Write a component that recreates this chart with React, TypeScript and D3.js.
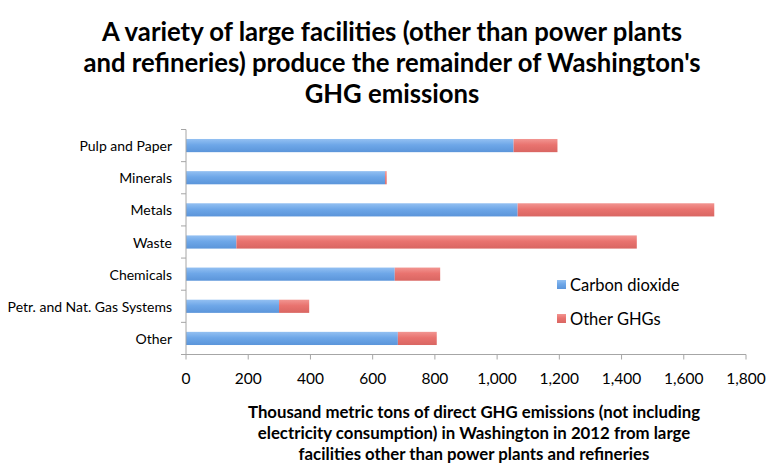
import * as d3 from "d3"

const categories = ["Pulp and Paper", "Minerals", "Metals", "Waste", "Chemicals", "Petr. and Nat. Gas Systems", "Other"]
const carbonDioxide = [1053, 640, 1066, 162, 671, 299, 681]
const otherGhgs = [141, 5, 632, 1287, 146, 97, 125]
const xTicks = [0, 200, 400, 600, 800, 1000, 1200, 1400, 1600, 1800]
const seriesNames = ["Carbon dioxide", "Other GHGs"]

const titleLines = [
  "A variety of large facilities (other than power plants",
  "and refineries) produce the remainder of Washington's",
  "GHG emissions",
]
const axisTitleLines = [
  "Thousand metric tons of direct GHG emissions (not including",
  "electricity consumption) in Washington in 2012 from large",
  "facilities other than power plants and refineries",
]

const WIDTH = 782
const HEIGHT = 476
const FONT = "Lato, 'Open Sans', sans-serif"

export default function App() {
  const x = d3.scaleLinear().domain([0, 1800]).range([186, 746])
  const y = d3.scaleBand<string>().domain(categories).range([129.5, 354.5]).paddingInner(0.59).paddingOuter(0.295)

  const fmt = d3.format(",")
  const axisColor = "#a6a6a6"
  const step = y.step()
  const top = y.range()[0]
  const bottom = y.range()[1]

  // boundaries between categories get the little left ticks
  const boundaries = d3.range(categories.length + 1).map(i => top + i * step)

  return (
    <svg
      width={WIDTH}
      height={HEIGHT}
      style={{ position: "absolute", left: 0, top: 0, background: "white" }}
      fontFamily={FONT}
    >
      <defs>
        <linearGradient id="blueGrad" x1="0" y1="0" x2="0" y2="1">
          <stop offset="0%" stopColor="#93c0f2" />
          <stop offset="45%" stopColor="#6ea7e8" />
          <stop offset="100%" stopColor="#5b95da" />
        </linearGradient>
        <linearGradient id="redGrad" x1="0" y1="0" x2="0" y2="1">
          <stop offset="0%" stopColor="#f29591" />
          <stop offset="45%" stopColor="#e9736f" />
          <stop offset="100%" stopColor="#d96662" />
        </linearGradient>
      </defs>

      {/* title */}
      <text textAnchor="middle" fontWeight="bold" fontSize={25.7} fill="#000">
        {titleLines.map((line, i) => (
          <tspan key={i} x={392} y={41 + i * 31}>{line}</tspan>
        ))}
      </text>

      {/* bars */}
      {categories.map((c, i) => (
        <g key={c}>
          <rect
            x={x(0)}
            y={y(c)}
            width={x(carbonDioxide[i]) - x(0)}
            height={y.bandwidth()}
            fill="url(#blueGrad)"
          />
          <rect
            x={x(carbonDioxide[i])}
            y={y(c)}
            width={x(carbonDioxide[i] + otherGhgs[i]) - x(carbonDioxide[i])}
            height={y.bandwidth()}
            fill="url(#redGrad)"
          />
        </g>
      ))}

      {/* y axis */}
      <line x1={x(0)} x2={x(0)} y1={top} y2={bottom} stroke={axisColor} />
      {boundaries.map((b, i) => (
        <line key={i} x1={x(0) - 5} x2={x(0)} y1={b} y2={b} stroke={axisColor} />
      ))}
      {categories.map(c => (
        <text
          key={c}
          x={172}
          y={(y(c) ?? 0) + y.bandwidth() / 2}
          textAnchor="end"
          dominantBaseline="central"
          fontSize={14}
          fill="#000"
        >
          {c}
        </text>
      ))}

      {/* x axis */}
      <line x1={x(0)} x2={x(1800)} y1={bottom} y2={bottom} stroke={axisColor} />
      {xTicks.map(t => (
        <g key={t}>
          <line x1={x(t)} x2={x(t)} y1={bottom} y2={bottom + 5} stroke={axisColor} />
          <text x={x(t)} y={378} textAnchor="middle" dominantBaseline="central" fontSize={15.5} fill="#000">
            {fmt(t)}
          </text>
        </g>
      ))}

      {/* axis title */}
      <text textAnchor="middle" fontWeight="bold" fontSize={16.8} fill="#000">
        {axisTitleLines.map((line, i) => (
          <tspan key={i} x={474} y={418 + i * 20.8}>{line}</tspan>
        ))}
      </text>

      {/* legend */}
      {seriesNames.map((s, i) => (
        <g key={s} transform={`translate(557, ${280 + i * 34})`}>
          <rect width={9} height={9} fill={i === 0 ? "url(#blueGrad)" : "url(#redGrad)"} />
          <text x={13} y={5} dominantBaseline="central" fontSize={16.5} fill="#000">{s}</text>
        </g>
      ))}
    </svg>
  )
}
